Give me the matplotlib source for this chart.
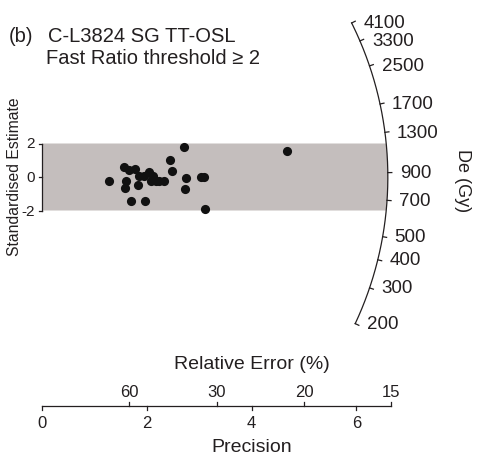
import numpy as np
import matplotlib.pyplot as plt

plt.rcParams['font.family'] = ['Liberation Sans', 'DejaVu Sans']

# Radial plot data: precision (1/relative error) and standardised estimate
precision = [1.28, 1.56, 1.60, 1.58, 1.66, 1.70, 1.78, 1.83, 1.85, 1.97, 1.94,
             2.05, 2.08, 2.12, 2.17, 2.24, 2.32, 2.45, 2.49, 2.71, 2.75, 2.73,
             3.04, 3.10, 3.11, 4.67]
std_estimate = [-0.22, 0.61, -0.21, -0.63, 0.39, -1.46, 0.45, -0.45, 0.06, -1.46,
                0.03, 0.27, -0.21, 0.06, -0.21, -0.21, -0.21, 1.03, 0.34, 1.79,
                -0.08, -0.71, 0.02, 0.02, -1.90, 1.53]

de_ticks = [200, 300, 400, 500, 700, 900, 1300, 1700, 2500, 3300, 4100]
central_de = 865.0
rel_err_ticks = [60, 30, 20, 15]
precision_ticks = [0, 2, 4, 6]
std_ticks = [-2, 0, 2]
band_limit = 2.0
arc_radius = 6.6  # in precision units

# Pixel layout of the data frame
W, H = 478, 460
PX_X, PX_Y = 52.4, 16.75       # pixels per unit
X0, Y0 = 42.0, 178.0           # pixel position of origin (from top-left)
k = PX_X / PX_Y

ink = '#231f20'

fig = plt.figure(figsize=(W / 100, H / 100), dpi=100)
ax = fig.add_axes([0, 0, 1, 1])
ax.set_xlim(-X0 / PX_X, (W - X0) / PX_X)
ax.set_ylim(-(H - Y0) / PX_Y, Y0 / PX_Y)
ax.axis('off')


def ux(px):
    return (px - X0) / PX_X


def uy(py):
    return (Y0 - py) / PX_Y


def angle(de):
    return np.arctan((np.log(de) - np.log(central_de)) / k)


def arc_xy(phi):
    return arc_radius * np.cos(phi), arc_radius * k * np.sin(phi)


# Shaded +/-2 band, bounded by the arc on the right
phi_b = np.arcsin(band_limit / (arc_radius * k))
phis = np.linspace(phi_b, -phi_b, 60)
bx, by = arc_xy(phis)
poly_x = np.concatenate([[0, 0], bx])
poly_y = np.concatenate([[-band_limit, band_limit], by])
ax.fill(poly_x, poly_y, color='#c4bebd', lw=0, zorder=1)

# Left axis for the standardised estimate
ax.plot([0, 0], [-band_limit, band_limit], color=ink, lw=0.9, zorder=2)
for t in std_ticks:
    ax.plot([0, -3 / PX_X], [t, t], color=ink, lw=0.9, zorder=2)
    ax.text(-7 / PX_X, t, f'{t}', ha='right', va='center', fontsize=11, color=ink)
ax.text(ux(15), uy(177), 'Standardised Estimate', rotation=90, ha='center',
        va='center', fontsize=11.3, color=ink)

# Data points
ax.plot(precision, std_estimate, 'o', color='#111111', ms=6.6, mec='none', zorder=3)

# De arc with ticks and labels
phi_all = np.linspace(angle(min(de_ticks)), angle(max(de_ticks)), 300)
axx, axy = arc_xy(phi_all)
ax.plot(axx, axy, color=ink, lw=0.9, zorder=4)
for d in de_ticks:
    p = angle(d)
    x1, y1 = arc_xy(p)
    ax.plot([x1, x1 + 4 / PX_X * np.cos(p)], [y1, y1 + 4 / PX_Y * np.sin(p)],
            color=ink, lw=0.9, zorder=4)
    ax.text(x1 + 12 / PX_X, y1, f'{d}', ha='left', va='center', fontsize=13.5, color=ink)
ax.text(ux(462), uy(181), 'De (Gy)', rotation=-90, ha='center', va='center',
        fontsize=13, color=ink)

# Bottom axis: precision below, relative error above
ya = uy(406.7)
xmax = 100.0 / min(rel_err_ticks)
ax.plot([0, xmax], [ya, ya], color=ink, lw=0.9)
for t in precision_ticks:
    ax.plot([t, t], [ya, ya - 4 / PX_Y], color=ink, lw=0.9)
    ax.text(t, ya - 9 / PX_Y, f'{t}', ha='center', va='top', fontsize=12, color=ink)
for r in rel_err_ticks:
    xp = 100.0 / r
    ax.plot([xp, xp], [ya, ya + 4 / PX_Y], color=ink, lw=0.9)
    ax.text(xp, ya + 10 / PX_Y, f'{r}', ha='center', va='baseline', fontsize=12, color=ink)
ax.text(ux(252), uy(365), 'Relative Error (%)', ha='center', va='center',
        fontsize=14, color=ink)
ax.text(ux(252), uy(448), 'Precision', ha='center', va='center', fontsize=14, color=ink)

# Title block
ax.text(ux(9), uy(42), '(b)', ha='left', va='baseline', fontsize=14.5, color=ink)
ax.text(ux(48), uy(42), 'C-L3824 SG TT-OSL', ha='left', va='baseline',
        fontsize=14.5, color=ink)
ax.text(ux(46), uy(64), 'Fast Ratio threshold \u2265 2', ha='left', va='baseline',
        fontsize=14.5, color=ink)

fig.savefig('out.png', dpi=100, facecolor='white')
